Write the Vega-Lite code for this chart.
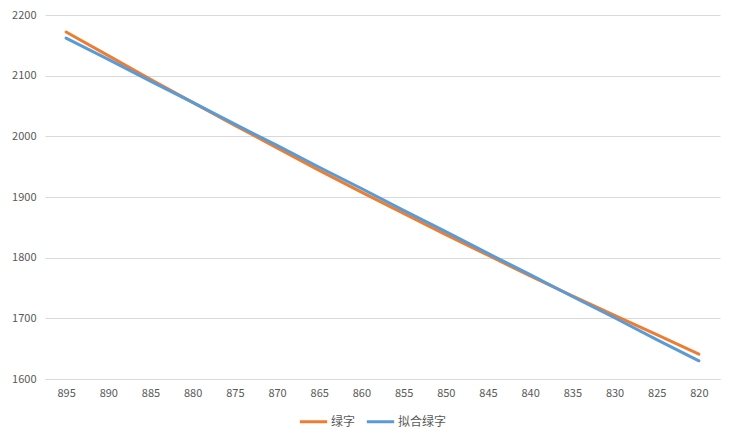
{
  "$schema": "https://vega.github.io/schema/vega-lite/v6.json",
  "width": 675,
  "height": 364,
  "autosize": {"type": "none"},
  "padding": {"left": 45, "top": 15, "right": 14, "bottom": 62},
  "background": "white",
  "data": {
    "values": [
      {"x": 895, "series": "绿字", "value": 2172},
      {"x": 890, "series": "绿字", "value": 2133},
      {"x": 885, "series": "绿字", "value": 2094},
      {"x": 880, "series": "绿字", "value": 2056},
      {"x": 875, "series": "绿字", "value": 2018},
      {"x": 870, "series": "绿字", "value": 1981},
      {"x": 865, "series": "绿字", "value": 1944},
      {"x": 860, "series": "绿字", "value": 1908},
      {"x": 855, "series": "绿字", "value": 1873},
      {"x": 850, "series": "绿字", "value": 1838},
      {"x": 845, "series": "绿字", "value": 1804},
      {"x": 840, "series": "绿字", "value": 1770},
      {"x": 835, "series": "绿字", "value": 1737},
      {"x": 830, "series": "绿字", "value": 1705},
      {"x": 825, "series": "绿字", "value": 1673},
      {"x": 820, "series": "绿字", "value": 1641},
      {"x": 895, "series": "拟合绿字", "value": 2162},
      {"x": 890, "series": "拟合绿字", "value": 2127},
      {"x": 885, "series": "拟合绿字", "value": 2091},
      {"x": 880, "series": "拟合绿字", "value": 2056},
      {"x": 875, "series": "拟合绿字", "value": 2020},
      {"x": 870, "series": "拟合绿字", "value": 1985},
      {"x": 865, "series": "拟合绿字", "value": 1949},
      {"x": 860, "series": "拟合绿字", "value": 1914},
      {"x": 855, "series": "拟合绿字", "value": 1878},
      {"x": 850, "series": "拟合绿字", "value": 1843},
      {"x": 845, "series": "拟合绿字", "value": 1807},
      {"x": 840, "series": "拟合绿字", "value": 1772},
      {"x": 835, "series": "拟合绿字", "value": 1736},
      {"x": 830, "series": "拟合绿字", "value": 1701},
      {"x": 825, "series": "拟合绿字", "value": 1665},
      {"x": 820, "series": "拟合绿字", "value": 1630}
    ]
  },
  "mark": {"type": "line", "strokeWidth": 3, "strokeCap": "round", "strokeJoin": "round"},
  "encoding": {
    "x": {
      "field": "x",
      "type": "ordinal",
      "sort": "descending",
      "scale": {"type": "point", "padding": 0.5},
      "axis": {
        "title": null,
        "labelAngle": 0,
        "ticks": false,
        "domainColor": "#d9d9d9",
        "labelColor": "#595959",
        "labelFont": "Noto Sans CJK SC",
        "labelFontSize": 11,
        "labelPadding": 8,
        "grid": false
      }
    },
    "y": {
      "field": "value",
      "type": "quantitative",
      "scale": {"domain": [1600, 2200], "nice": false, "zero": false},
      "axis": {
        "title": null,
        "format": "d",
        "values": [1600, 1700, 1800, 1900, 2000, 2100, 2200],
        "ticks": false,
        "domain": false,
        "gridColor": "#d9d9d9",
        "labelColor": "#595959",
        "labelFont": "Noto Sans CJK SC",
        "labelFontSize": 11,
        "labelPadding": 9
      }
    },
    "color": {
      "field": "series",
      "type": "nominal",
      "sort": ["绿字", "拟合绿字"],
      "scale": {"domain": ["绿字", "拟合绿字"], "range": ["#ED7D31", "#5B9BD5"]},
      "legend": {
        "title": null,
        "orient": "none",
        "legendX": 253,
        "legendY": 391,
        "direction": "horizontal",
        "symbolType": "stroke",
        "symbolStrokeWidth": 3,
        "symbolSize": 750,
        "labelColor": "#595959",
        "labelFont": "Noto Sans CJK SC",
        "labelFontSize": 12,
        "columnPadding": 4,
        "labelOffset": 2
      }
    }
  },
  "config": {
    "view": {"stroke": null}
  }
}
